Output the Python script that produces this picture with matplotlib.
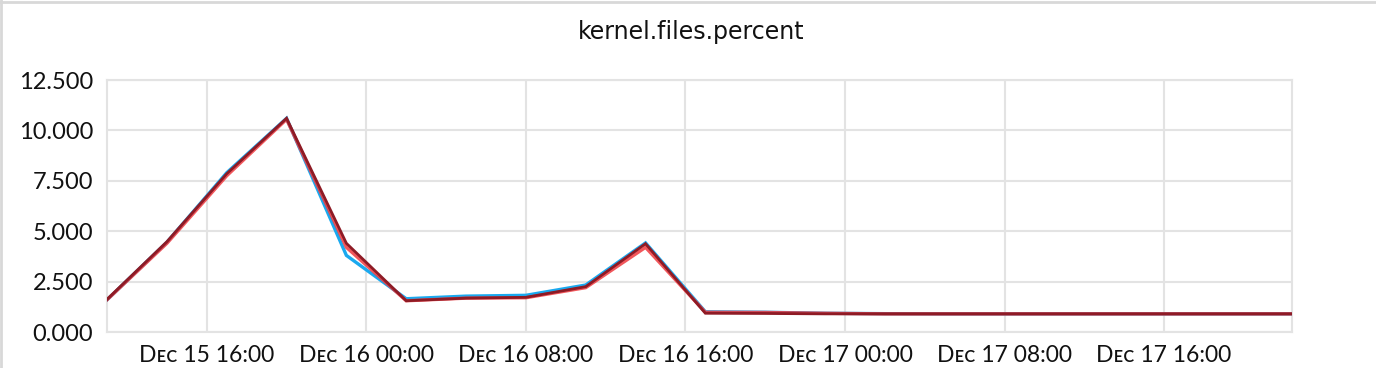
import matplotlib
matplotlib.use("Agg")
import matplotlib.pyplot as plt
from matplotlib.lines import Line2D
import pandas as pd

# sample times: every 3 hours, the last one is a partial sample
times = list(pd.date_range("2016-12-15 11:00", "2016-12-17 20:00", freq="3h")) + [pd.Timestamp("2016-12-17 22:25")]

cyan_vals = [1.60, 4.45, 7.90, 10.60, 3.80, 1.65, 1.78, 1.82, 2.33, 4.42,
             1.00, 0.98, 0.93, 0.91, 0.90, 0.90, 0.90, 0.90, 0.90, 0.90, 0.90]
red_vals = [1.60, 4.40, 7.75, 10.55, 4.20, 1.55, 1.68, 1.70, 2.20, 4.20,
            0.98, 0.97, 0.93, 0.90, 0.90, 0.90, 0.90, 0.90, 0.90, 0.90, 0.90]
dark_vals = [1.62, 4.48, 7.85, 10.60, 4.40, 1.55, 1.68, 1.72, 2.25, 4.38,
             0.93, 0.92, 0.90, 0.90, 0.90, 0.90, 0.90, 0.90, 0.90, 0.90, 0.90]

y_ticks = [0, 2.5, 5, 7.5, 10, 12.5]
x_ticks = pd.date_range("2016-12-15 16:00", "2016-12-17 16:00", freq="8h")

plt.rcParams['font.family'] = ['Lato', 'DejaVu Sans']

fig = plt.figure(figsize=(13.76, 3.68), dpi=100)
ax = fig.add_axes([0.0778, 0.0978, 0.8612, 0.6848])

ax.plot(times, cyan_vals, color='#1aa9ef', lw=2.4, solid_joinstyle='miter', zorder=3)
ax.plot(times, red_vals, color='#ef3a3f', lw=2.4, alpha=0.85, solid_joinstyle='miter', zorder=4)
ax.plot(times, dark_vals, color='#8e1b25', lw=2.0, solid_joinstyle='miter', zorder=5)

ax.set_xlim(times[0], times[-1])
ax.set_ylim(0, 12.5)
ax.set_yticks(y_ticks)
ax.set_yticklabels([f"{v:.3f}" for v in y_ticks], fontsize=17)
ax.set_xticks(x_ticks)
ax.set_xticklabels(["D\u1d07\u1d04 " + t.strftime("%d %H:%M") for t in x_ticks], fontsize=16.5)
ax.tick_params(axis='y', length=0, pad=10, colors='#111111')
ax.tick_params(axis='x', length=0, pad=9, colors='#111111')

ax.grid(True, color='#e3e3e3', lw=1.5)
ax.set_axisbelow(True)
for s in ax.spines.values():
    s.set_color('#e3e3e3')
    s.set_linewidth(1.5)

fig.text(0.502, 0.913, "kernel.files.percent", ha='center', va='center',
         fontsize=17, family='DejaVu Sans', color='#111111')

# screenshot frame on the top and left
fig.add_artist(Line2D([0, 1], [0.994, 0.994], color='#d8d8d8', lw=2, transform=fig.transFigure))
fig.add_artist(Line2D([0.001, 0.001], [0, 1], color='#d8d8d8', lw=2, transform=fig.transFigure))

fig.savefig("out.png", dpi=100)
